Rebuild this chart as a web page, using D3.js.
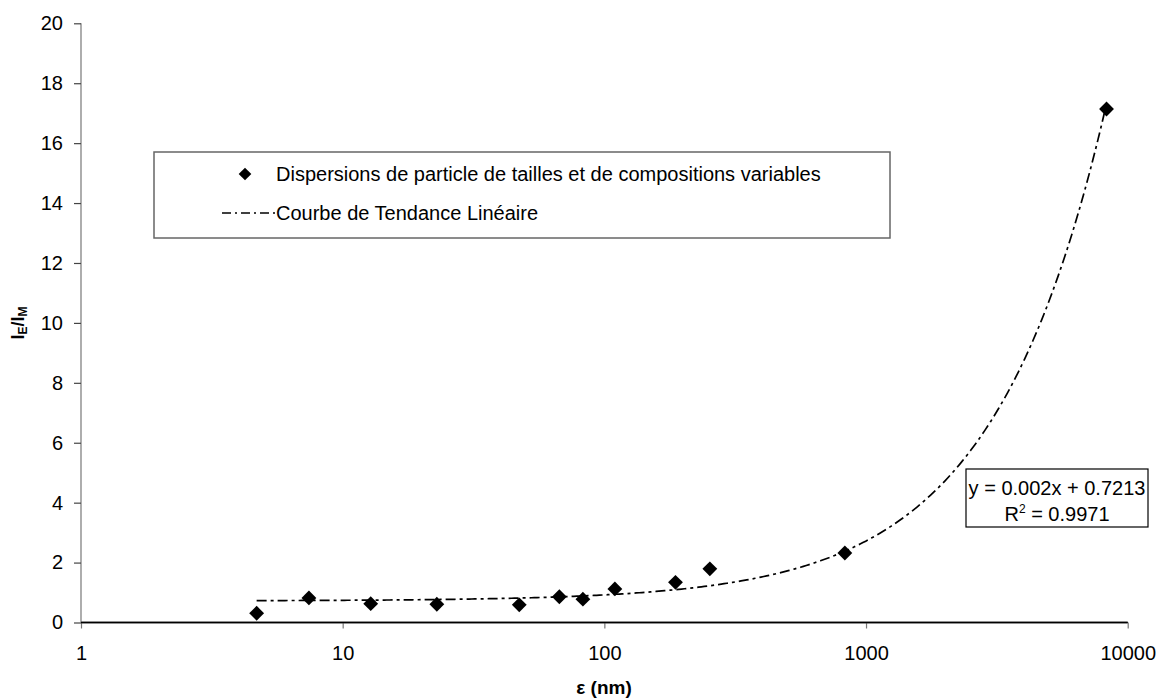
<!DOCTYPE html>
<html><head><meta charset="utf-8">
<script src="https://cdn.jsdelivr.net/npm/d3@7"></script>
<style>body{margin:0;background:#fff;} svg{display:block;font-family:"Liberation Sans",Arial,sans-serif;}</style>
</head><body>
<svg id="c" width="1158" height="698"></svg>
<script>
const xValues = [4.69, 7.43, 12.8, 22.9, 47.3, 67.3, 82.8, 109.7, 187, 253, 830, 8300];
const yValues = [0.31, 0.82, 0.63, 0.61, 0.59, 0.86, 0.78, 1.12, 1.34, 1.79, 2.32, 17.14];
const xTicks = [1, 10, 100, 1000, 10000];
const yTicks = [0, 2, 4, 6, 8, 10, 12, 14, 16, 18, 20];
const trendSlope = 0.002;
const trendIntercept = 0.7213;
const seriesName = "Dispersions de particle de tailles et de compositions variables";
const trendName = "Courbe de Tendance Linéaire";
const eqLine1 = "y = 0.002x + 0.7213";

const svg = d3.select("#c");
const FS = 20;
const L = 81, R = 1127.7, T = 23.3, B = 622.5;
const x = d3.scaleLog().domain([1, 10000]).range([L, R]);
const y = d3.scaleLinear().domain([0, 20]).range([B, T]);

// axes
const xAxis = d3.axisBottom(x).tickValues(xTicks).tickFormat(d3.format("d")).tickSize(6).tickPadding(17);
const gx = svg.append("g").attr("transform", `translate(0,${B})`).call(xAxis);
gx.select(".domain").attr("stroke", "#000").attr("stroke-width", 1.5).attr("d", `M${L},0H${R}`);
gx.selectAll(".tick line").attr("stroke", "#777").attr("stroke-width", 1.2);
gx.selectAll(".tick text").attr("font-size", FS).attr("fill", "#000").attr("font-family", "Liberation Sans, Arial, sans-serif");

const yAxis = d3.axisLeft(y).tickValues(yTicks).tickSize(7).tickPadding(11);
const gy = svg.append("g").attr("transform", `translate(${L},0)`).call(yAxis);
gy.select(".domain").attr("stroke", "#777").attr("stroke-width", 1.2).attr("d", `M0,${B}V${T}`);
gy.selectAll(".tick line").attr("stroke", "#444").attr("stroke-width", 1.2);
gy.selectAll(".tick text").attr("font-size", FS).attr("fill", "#000").attr("font-family", "Liberation Sans, Arial, sans-serif");
svg.append("line").attr("x1", L).attr("x2", R).attr("y1", B).attr("y2", B).attr("stroke", "#000").attr("stroke-width", 1.5);

// trend line (from the displayed equation), sampled along log x
const xmin = d3.min(xValues), xmax = d3.max(xValues);
const lmin = Math.log10(xmin), lmax = Math.log10(xmax);
const trendPts = d3.range(0, 301).map(i => {
  const xv = Math.pow(10, lmin + (lmax - lmin) * i / 300);
  return [xv, trendSlope * xv + trendIntercept];
});
svg.append("path").datum(trendPts)
  .attr("d", d3.line().x(d => x(d[0])).y(d => y(d[1])))
  .attr("fill", "none").attr("stroke", "#000").attr("stroke-width", 1.7)
  .attr("stroke-dasharray", "10,4,3,4");

// points
svg.append("g").selectAll("path").data(xValues.map((d, i) => [d, yValues[i]])).join("path")
  .attr("d", d3.symbol().type(d3.symbolSquare).size(110))
  .attr("transform", d => `translate(${x(d[0])},${y(d[1])}) rotate(45)`)
  .attr("fill", "#000");

// legend
const lg = svg.append("g");
lg.append("rect").attr("x", 154).attr("y", 152).attr("width", 736).attr("height", 86)
  .attr("fill", "#fff").attr("stroke", "#666").attr("stroke-width", 1.5);
lg.append("path").attr("d", d3.symbol().type(d3.symbolSquare).size(80))
  .attr("transform", "translate(245,174) rotate(45)").attr("fill", "#000");
lg.append("text").attr("x", 276).attr("y", 180.5).attr("font-size", FS).text(seriesName);
lg.append("line").attr("x1", 222).attr("x2", 275).attr("y1", 213).attr("y2", 213)
  .attr("stroke", "#000").attr("stroke-width", 1.7).attr("stroke-dasharray", "9,4,2,4");
lg.append("text").attr("x", 276).attr("y", 220).attr("font-size", FS).text(trendName);

// equation box
const eg = svg.append("g");
eg.append("rect").attr("x", 966).attr("y", 469).attr("width", 182).attr("height", 58)
  .attr("fill", "#fff").attr("stroke", "#000").attr("stroke-width", 1.2);
eg.append("text").attr("x", 1057).attr("y", 495).attr("text-anchor", "middle").attr("font-size", FS).text(eqLine1);
const t2 = eg.append("text").attr("x", 1057).attr("y", 521).attr("text-anchor", "middle").attr("font-size", FS);
t2.append("tspan").text("R");
t2.append("tspan").attr("font-size", 12).attr("dy", -8).text("2");
t2.append("tspan").attr("dy", 8).text(" = 0.9971");

// axis titles
svg.append("text").attr("x", 604).attr("y", 694).attr("text-anchor", "middle")
  .attr("font-size", 19).attr("font-weight", "bold").text("ε (nm)");
const yt = svg.append("text").attr("transform", "translate(24,323) rotate(-90)")
  .attr("text-anchor", "middle").attr("font-size", 18).attr("font-weight", "bold");
yt.append("tspan").text("I");
yt.append("tspan").attr("font-size", 12).attr("dy", 3).text("E");
yt.append("tspan").attr("dy", -3).text("/I");
yt.append("tspan").attr("font-size", 12).attr("dy", 3).text("M");
</script>
</body></html>
